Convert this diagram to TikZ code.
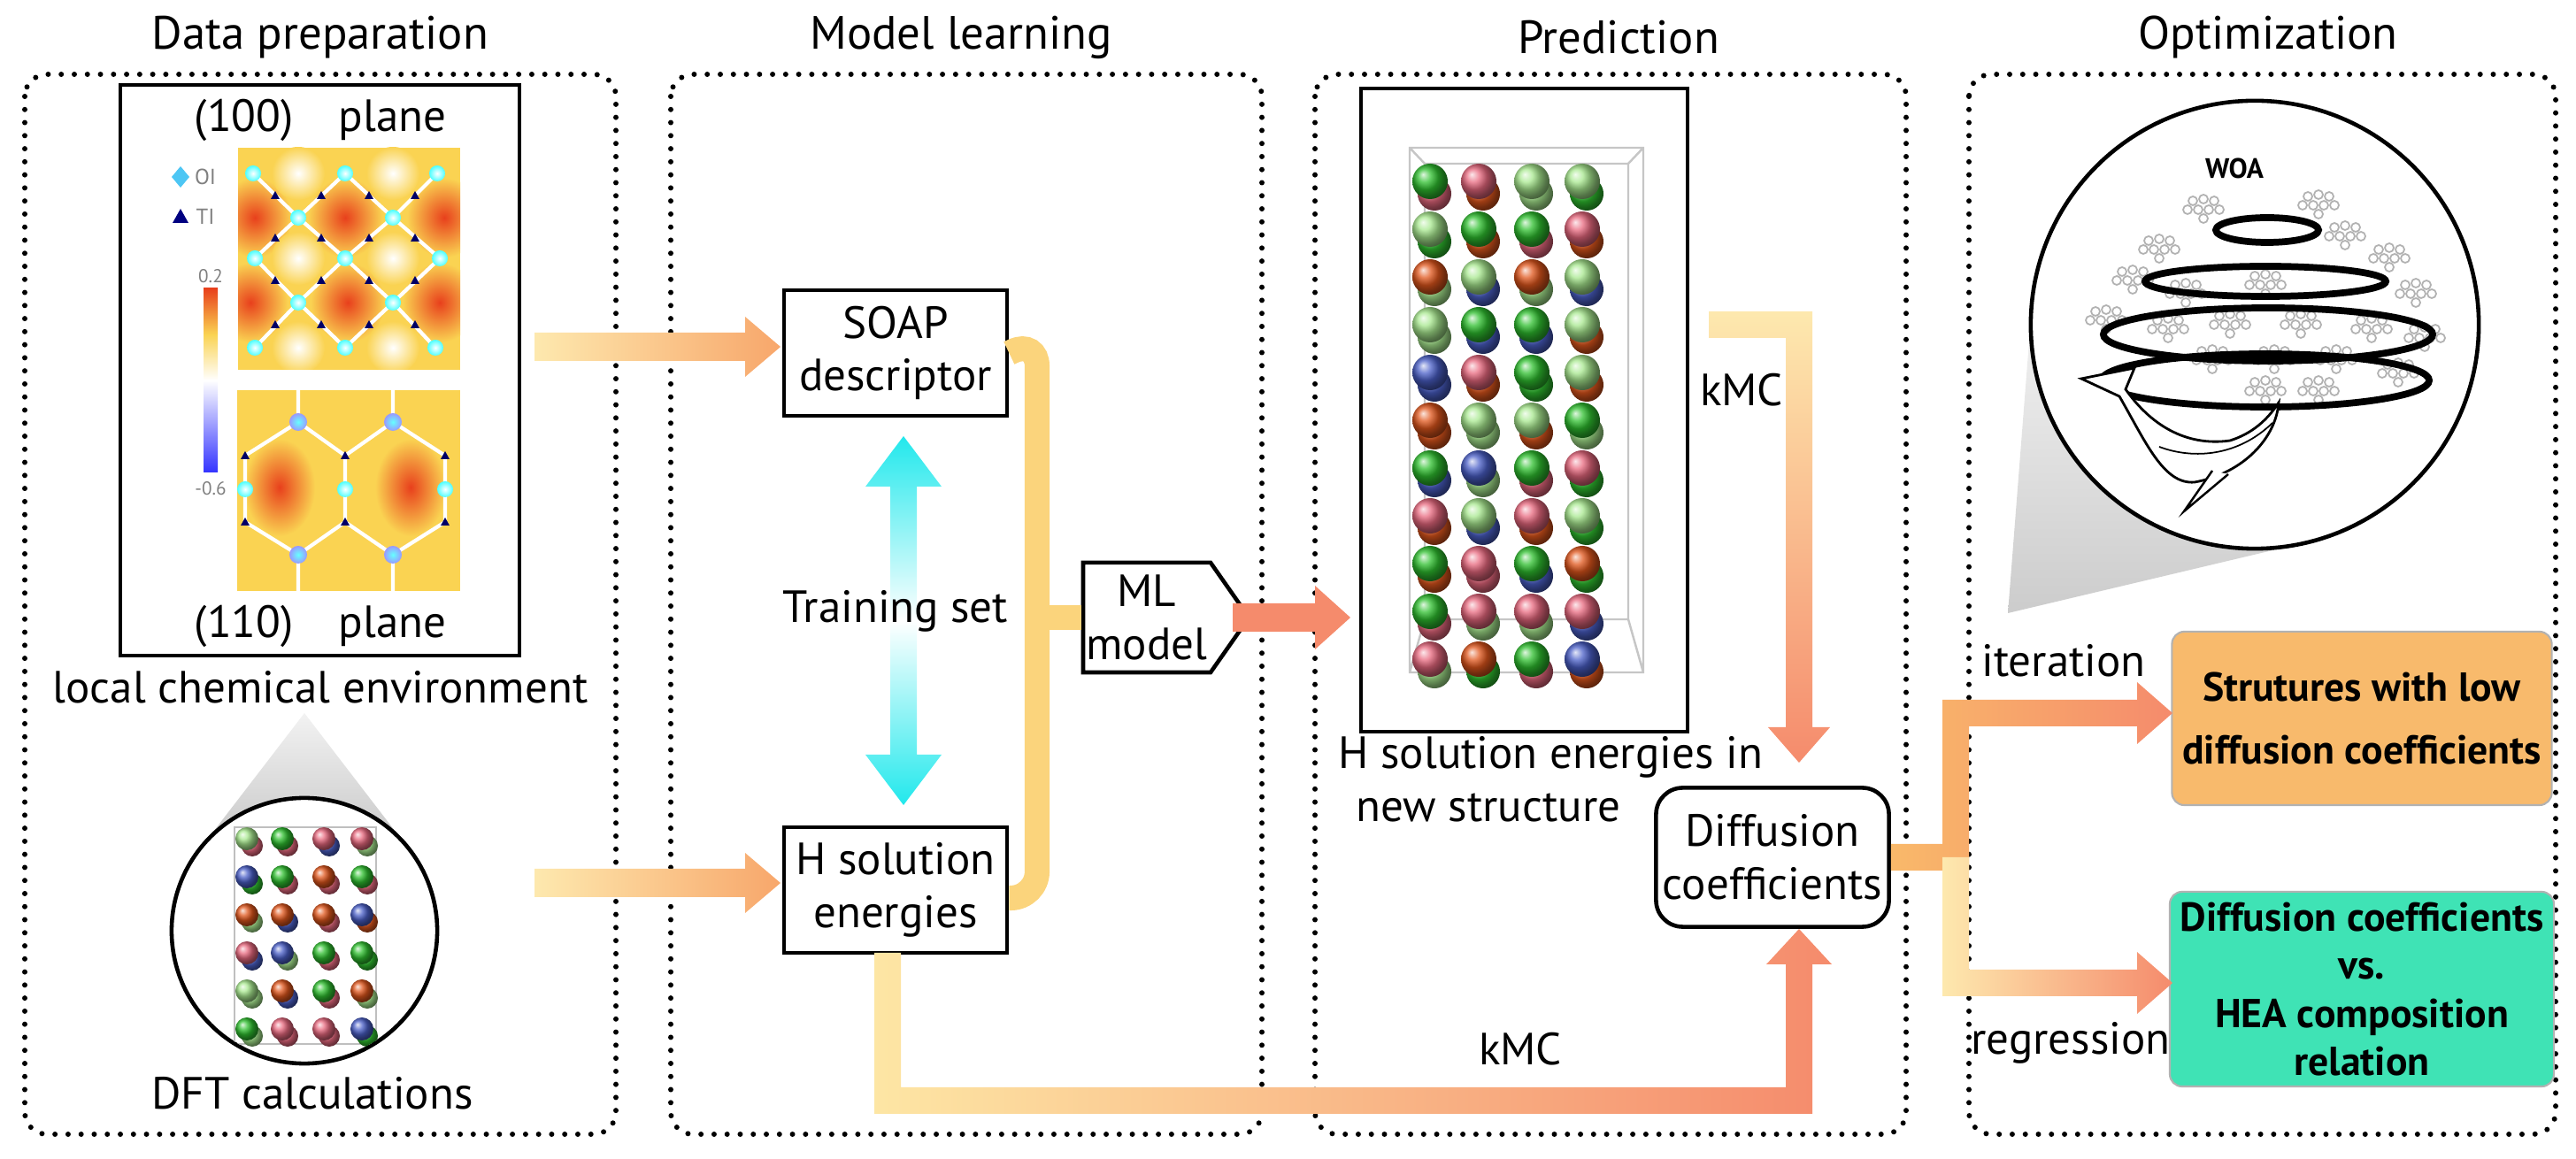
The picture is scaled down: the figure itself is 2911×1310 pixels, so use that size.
\documentclass[tikz,border=0pt]{standalone}
\usepackage{fontspec}
\setmainfont{PT Sans}
\usetikzlibrary{shapes.geometric,shapes.symbols,calc}
\definecolor{yel}{HTML}{FDE39A}
\definecolor{ora}{HTML}{F9B96A}
\definecolor{sal}{HTML}{F58B6C}
\definecolor{brk}{HTML}{FBD47C}
\definecolor{cyanA}{HTML}{22E8EC}
\definecolor{boxO}{HTML}{F8BA6C}
\definecolor{boxG}{HTML}{3FE3B5}
\definecolor{atom1}{HTML}{2FC02F}
\definecolor{atom2}{HTML}{A7E88E}
\definecolor{atom3}{HTML}{E0561C}
\definecolor{atom4}{HTML}{E8687E}
\definecolor{atom5}{HTML}{4A5FC8}
\definecolor{hY}{HTML}{FAD352}
\definecolor{hR}{HTML}{E8401C}
\tikzset{
  panel/.style={line width=1.7pt, dash pattern=on 0pt off 4.2pt, line cap=round, rounded corners=0.25cm},
  title/.style={font=\fontsize{15}{17}\selectfont},
  lbl/.style={font=\fontsize{14.5}{17}\selectfont, align=center},
  box/.style={draw, line width=1.3pt, lbl, inner sep=2pt},
  cbox/.style={rounded corners=0.14cm, font=\bfseries\fontsize{13}{20}\selectfont, align=center, minimum width=4.18cm, draw=gray!60, line width=0.6pt},
  woaline/.style={line width=2.2pt},
}
\newcommand{\myclus}[2]{%
  \foreach \dx/\dy in {-12/-8,0/-10,12/-8,-6/2,6/2,0/12,-18/2,18/2}{\draw[gray!60, line width=0.5pt, fill=white] ($(#1,#2)+(\dx,\dy)$) circle (0.05cm);}}
\begin{document}
\begin{tikzpicture}[x=0.01cm,y=-0.01cm]
\useasboundingbox (0,0) rectangle (2911,1310);

% panels and titles
\draw[panel] (28,84) rectangle (696,1282);
\draw[panel] (758,84) rectangle (1426,1282);
\draw[panel] (1486,84) rectangle (2154,1282);
\draw[panel] (2225,84) rectangle (2888,1282);
\node[title] (t1) at (362,42) {Data preparation};
\node[title] (t2) at (1086,42) {Model learning};
\node[title] (t3) at (1829,42) {Prediction};
\node[title] (t4) at (2563,42) {Optimization};

% ---------- Data preparation ----------
\shade[top color=gray!10, bottom color=gray!45] (344,806) -- (225,961) -- (463,961) -- cycle;
\node[draw, circle, line width=1.3pt, fill=white, minimum size=3.0cm] (dft) at (344,1052) {};
\begin{scope}
\clip (344,1052) circle (1.48cm);
\draw[gray!50, line width=0.5pt] (265,935) rectangle (425,1180);
\pgfmathsetseed{11}
\foreach \cx in {279,319,366,409}{
  \foreach \ry in {948,991,1034,1077,1120,1163}{
    \pgfmathrandominteger{\ka}{1}{5}\pgfmathrandominteger{\kb}{1}{5}
    \shade[ball color=atom\kb] (\cx+6,\ry+8) circle (0.12cm);
    \shade[ball color=atom\ka] (\cx,\ry) circle (0.13cm);
  }}
\end{scope}
\node[lbl] (dftl) at (353,1236) {DFT calculations};

% heat map box
\draw[line width=1.3pt] (136,96) rectangle (587,741);
\node[lbl] (p100) at (362,136) {(100)\quad plane};
\node[lbl] (p110) at (362,708) {(110)\quad plane};
\begin{scope}
\clip (269,167) rectangle (520,418);
\fill[hY] (269,167) rectangle (520,418);
\foreach \bx/\by in {288/246,390/246,502/246,283/342,393/342,497/342}{
  \shade[inner color=hR, outer color=hY] (\bx,\by) ellipse [x radius=0.42cm, y radius=0.45cm];}
\foreach \bx/\by in {337/196,444/196,337/292,444/292,337/393,444/393}{
  \shade[inner color=white, outer color=hY] (\bx,\by) ellipse [x radius=0.3cm, y radius=0.3cm];}
\draw[white, line width=1.2pt]
  (286,196)--(337,246)--(390,196)--(444,246)--(494,196)
  (288,292)--(337,246)--(390,292)--(444,246)--(497,292)
  (288,292)--(337,342)--(390,292)--(444,342)--(497,292)
  (288,393)--(337,342)--(390,393)--(444,342)--(492,393);
\foreach \ax/\ay in {286/196,390/196,494/196,337/246,444/246,288/292,390/292,497/292,337/342,444/342,288/393,390/393,492/393}{
  \shade[inner color=white, outer color=cyan!70] (\ax,\ay) circle (0.09cm);}
\foreach \ax/\ay in {311/221,363/221,417/221,469/221,311/269,363/269,417/269,469/269,311/317,363/317,417/317,469/317,311/367,363/367,417/367,469/367}{
  \fill[blue!40!black] (\ax,\ay-5) -- (\ax+5,\ay+4) -- (\ax-5,\ay+4) -- cycle;}
\end{scope}
\begin{scope}
\clip (268,441) rectangle (520,668);
\fill[hY] (268,441) rectangle (520,668);
\foreach \bx/\by in {316/551,464/551}{
  \shade[inner color=hR, outer color=hY] (\bx,\by) ellipse [x radius=0.4cm, y radius=0.55cm];}
\draw[white, line width=1.2pt]
  (337,477)--(390,515)--(444,477) (337,477)--(277,515) (444,477)--(503,515)
  (277,515)--(277,590) (390,515)--(390,590) (503,515)--(503,590)
  (277,590)--(337,627)--(390,590)--(444,627)--(503,590)
  (337,440)--(337,477) (444,440)--(444,477) (337,627)--(337,668) (444,627)--(444,668);
\foreach \ax/\ay in {337/477,444/477,337/627,444/627}{
  \shade[inner color=cyan!60, outer color=blue!40] (\ax,\ay) circle (0.1cm);}
\foreach \ax/\ay in {277/553,390/553,503/553}{
  \shade[inner color=white, outer color=cyan!70] (\ax,\ay) circle (0.09cm);}
\foreach \ax/\ay in {277/515,390/515,503/515,277/590,390/590,503/590}{
  \fill[blue!40!black] (\ax,\ay-5) -- (\ax+5,\ay+4) -- (\ax-5,\ay+4) -- cycle;}
\end{scope}
\fill[cyan!70] (204,188) -- (214,200) -- (204,212) -- (194,200) -- cycle;
\node[font=\fontsize{7}{8}\selectfont, text=gray] (loi) at (232,200) {OI};
\fill[blue!50!black] (204,236) -- (213,252) -- (195,252) -- cycle;
\node[font=\fontsize{7}{8}\selectfont, text=gray] (lti) at (232,245) {TI};
\shade[top color=hR, bottom color=white, middle color=hY] (230,326) rectangle (246,430);
\shade[top color=white, bottom color=blue!80] (230,430) rectangle (246,534);
\node[font=\fontsize{6}{7}\selectfont, text=gray] (c1) at (238,312) {0.2};
\node[font=\fontsize{6}{7}\selectfont, text=gray] (c2) at (238,552) {-0.6};
\node[lbl] (lce) at (362,777) {local chemical environment};

% ---------- Model learning ----------
\node[box, minimum width=2.52cm, minimum height=1.42cm] (soap) at (1012,399) {SOAP\\descriptor};
\node[box, minimum width=2.52cm, minimum height=1.42cm] (hsol) at (1012,1006) {H solution\\energies};
\shade[left color=yel!80, right color=ora!60!sal]
  (604,376) -- (842,376) -- (842,358) -- (882,392) -- (842,426) -- (842,408) -- (604,408) -- cycle;
\shade[left color=yel!80, right color=ora!60!sal]
  (604,982) -- (842,982) -- (842,964) -- (882,998) -- (842,1032) -- (842,1014) -- (604,1014) -- cycle;
\shade[top color=cyanA, bottom color=cyanA, middle color=white]
  (1021,493)--(1064,550)--(1036,550)--(1036,853)--(1064,853)--(1021,910)--(978,853)--(1006,853)--(1006,550)--(978,550)--cycle;
\node[lbl] (train) at (1012,691) {Training set};
\draw[brk, line width=8pt, rounded corners=0.3cm] (soap.east) -- (1172,384) -- (1172,1015) -- (hsol.east |- 0,1015);
\node[draw, line width=1.3pt, signal, signal to=east, signal pointer angle=110, minimum width=1.77cm, minimum height=1.24cm, lbl, inner sep=1pt, fill=white] (ml) at (1296,698) {ML\\model};
\draw[brk, line width=8pt] (1172,698) -- (ml.west);

% ---------- Prediction ----------
\fill[sal] (1393,682) -- (1486,682) -- (1486,662) -- (1526,698) -- (1486,734) -- (1486,714) -- (1393,714) -- cycle;
\draw[line width=1.3pt] (1538,100) rectangle (1907,827);
\draw[gray!45, line width=0.7pt] (1593,167) rectangle (1857,760) (1610,185) -- (1840,185) (1593,167)--(1610,185) (1857,167)--(1840,185)
  (1610,185)--(1610,700) (1610,700)--(1840,700) (1840,185)--(1840,700) (1593,760)--(1610,700) (1857,760)--(1840,700);
\pgfmathsetseed{5}
\foreach \cx in {1616,1671,1731,1788}{
  \foreach \ry in {205,259,313,367,421,475,529,583,637,691,745}{
    \pgfmathrandominteger{\ka}{1}{5}\pgfmathrandominteger{\kb}{1}{5}
    \shade[ball color=atom\kb] (\cx+5,\ry+14) circle (0.19cm);
    \shade[ball color=atom\ka] (\cx,\ry) circle (0.2cm);
  }}
\node[lbl, align=left, anchor=west] (hnew) at (1500,881) {H solution energies in\\\hspace*{0.2cm}new structure};
\node[box, rounded corners=0.3cm, minimum width=2.63cm, minimum height=1.57cm] (diff) at (2003,969) {Diffusion\\coefficients};
\shade[top color=yel!80, bottom color=sal]
  (1931,352) -- (2048,352) -- (2048,822) -- (2068,822) -- (2033,862) -- (1998,822) -- (2018,822) -- (2018,382) -- (1931,382) -- cycle;
\node[lbl] (kmc1) at (1968,441) {kMC};
\shade[left color=yel!90, right color=sal]
  (988,1077) -- (988,1259) -- (2048,1259) -- (2048,1090) -- (2070,1090) -- (2033,1050) -- (1996,1090) -- (2018,1090) -- (2018,1229) -- (1018,1229) -- (1018,1077) -- cycle;
\node[lbl] (kmc2) at (1718,1186) {kMC};

% ---------- Optimization ----------
\shade[top color=gray!10, bottom color=gray!40] (2269,693) -- (2296,347) -- (2606,613) -- cycle;
\node[draw, circle, line width=1.3pt, fill=white, minimum size=5.06cm] (woa) at (2548,367) {};
\node[font=\bfseries\fontsize{9}{10}\selectfont] (woal) at (2525,190) {WOA};
\foreach \px/\py in {2490/235,2620/230,2440/280,2650/265,2700/290,2410/315,2470/330,2560/320,2730/330,2380/360,2450/370,2520/365,2600/365,2680/370,2740/380,2500/405,2570/405,2640/405,2710/420,2560/440,2620/440}
  {\myclus{\px}{\py}}
\draw[woaline] (2562,260) ellipse [x radius=0.58cm, y radius=0.14cm];
\draw[woaline] (2560,318) ellipse [x radius=1.36cm, y radius=0.17cm];
\draw[woaline] (2563,378) ellipse [x radius=1.86cm, y radius=0.3cm];
\draw[woaline] (2560,430) ellipse [x radius=1.85cm, y radius=0.3cm];
\draw[line width=0.8pt, fill=white]
 (2352,428) -- (2412,416) -- (2402,440)
 .. controls (2430,480) and (2470,505) .. (2520,498)
 .. controls (2545,490) and (2562,475) .. (2575,455)
 .. controls (2572,495) and (2535,535) .. (2480,545)
 .. controls (2445,548) and (2425,500) .. (2395,448)
 -- cycle;
\draw[line width=0.7pt, fill=white] (2500,532) -- (2468,578) -- (2518,536);
\draw[line width=0.5pt] (2440,505) .. controls (2480,520) and (2530,515) .. (2568,478);
\node[cbox, fill=boxO, minimum height=1.96cm] (low) at (2669,812) {Strutures with low\\diffusion coefficients};
\node[cbox, fill=boxG, minimum height=2.02cm, font=\bfseries\fontsize{13}{15.5}\selectfont] (rel) at (2669,1118) {Diffusion coefficients\\vs.\\HEA composition\\relation};
\shade[left color=ora, right color=sal]
  (diff.east |- 0,954) -- (2195,954) -- (2195,791) -- (2415,791) -- (2415,771) -- (2455,806) -- (2415,841) -- (2415,821) -- (2225,821) -- (2225,984) -- (diff.east |- 0,984) -- cycle;
\shade[left color=yel!80, right color=sal]
  (2195,969) -- (2195,1126) -- (2415,1126) -- (2415,1146) -- (2455,1111) -- (2415,1076) -- (2415,1096) -- (2225,1096) -- (2225,969) -- cycle;
\node[lbl] (iter) at (2332,747) {iteration};
\node[lbl] (regr) at (2340,1179) {regression};
\end{tikzpicture}
\end{document}
